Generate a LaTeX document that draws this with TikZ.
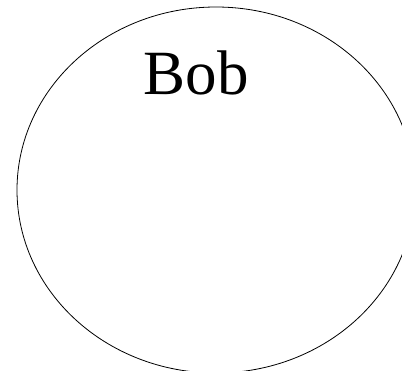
\documentclass[tikz,border=0pt]{standalone}
\usepackage{fontspec}
\setmainfont{Liberation Serif}
\usetikzlibrary{shapes.geometric}
\begin{document}
\begin{tikzpicture}[x=1pt,y=1pt,
  bubble/.style={draw=black, line width=0.8pt, ellipse, inner sep=0pt, minimum width=398pt, minimum height=366pt},
  label/.style={inner sep=0pt, anchor=base, font=\fontsize{63}{63}\selectfont}]
\useasboundingbox (0,0) rectangle (402,370);
\clip (0,0) rectangle (402,370);
\node[bubble] (ell) at (216,180) {};
\node[label] (bob) at (196,275) {Bob};
\end{tikzpicture}
\end{document}
